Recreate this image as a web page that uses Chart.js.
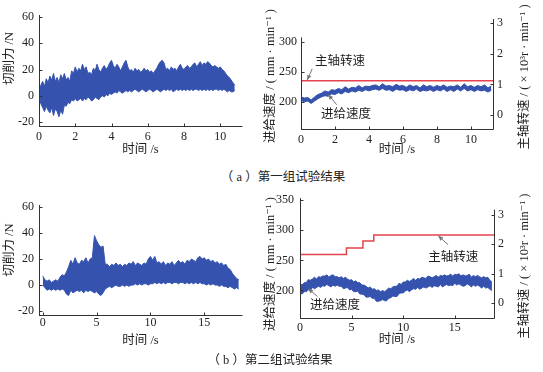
<!DOCTYPE html>
<html lang="zh">
<head>
<meta charset="UTF-8">
<title>试验结果</title>
<script src="https://cdn.jsdelivr.net/npm/chart.js"></script>
<style>
  body { margin: 0; background: #fff; width: 543px; height: 372px; position: relative; overflow: hidden;
         font-family: 'Liberation Serif', 'Times New Roman', 'DejaVu Serif', 'Noto Sans CJK SC', serif; }
  .panel { position: absolute; }
  .cap { position: absolute; font-size: 12.5px; color: #222; transform: translate(-50%, -50%); white-space: nowrap; }
</style>
</head>
<body>

<div class="panel" style="left:0;top:0;width:270px;height:165px"><canvas id="forceA"></canvas></div>
<div class="panel" style="left:262px;top:0;width:281px;height:165px"><canvas id="feedA"></canvas></div>
<div class="panel" style="left:0;top:185px;width:270px;height:165px"><canvas id="forceB"></canvas></div>
<div class="panel" style="left:262px;top:185px;width:281px;height:165px"><canvas id="feedB"></canvas></div>
<div class="cap" style="left:283px;top:175px">（ a ）第一组试验结果</div>
<div class="cap" style="left:270px;top:358px">（ b ）第二组试验结果</div>

<script>
// ---- data ----
// cutting force envelope, group 1 (N), sampled every 0.1 s from 0 s
const forceA_dt = 0.1;
const forceA_hi = [
  3, 8, 11, 7, 13, 10, 15, 12, 17, 11,
  14, 10, 16, 13, 17, 12, 14, 11, 19, 17,
  22, 18, 21, 19, 24, 20, 22, 17, 18, 16,
  21, 19, 24, 20, 18, 21, 23, 20, 22, 25,
  27, 23, 21, 24, 22, 19, 22, 25, 27, 22,
  19, 20, 18, 21, 19, 20, 18, 19, 21, 19,
  20, 18, 19, 17, 19, 21, 24, 26, 27, 25,
  20, 21, 19, 22, 20, 21, 19, 22, 24, 21,
  20, 22, 23, 21, 22, 24, 25, 22, 24, 26,
  23, 25, 24, 26, 25, 23, 22, 23, 22, 21,
  22, 20, 19, 17, 15, 14, 12, 10, 8
];
const forceA_lo = [
  -2, -6, -9, -12, -8, -11, -13, -9, -15, -10,
  -12, -16, -11, -14, -7, -8, -5, -6, -3, -4,
  -2, -4, -3, -2, -4, -2, -3, -1, -2, -4,
  -3, -1, -2, -3, -1, 0, -1, 1, 0, 2,
  1, 2, 3, 2, 4, 3, 2, 3, 4, 3,
  4, 3, 4, 5, 4, 3, 4, 5, 4, 3,
  4, 5, 4, 3, 4, 5, 4, 3, 4, 5,
  4, 5, 4, 5, 3, 4, 5, 4, 5, 4,
  5, 4, 5, 4, 5, 4, 5, 5, 4, 5,
  4, 5, 4, 5, 4, 5, 4, 5, 5, 4,
  5, 4, 5, 4, 3, 4, 3, 3, 4
];

// cutting force envelope, group 2 (N), sampled every 0.2 s
const forceB_dt = 0.2;
const forceB_hi = [
  7, 4, 3, 4, 2, 3, 4, 3, 6, 8,
  7, 10, 14, 19, 16, 21, 17, 16, 19, 18,
  21, 17, 20, 21, 38, 34, 31, 29, 30, 16,
  16, 14, 16, 15, 17, 15, 16, 14, 16, 15,
  17, 16, 18, 15, 17, 16, 15, 17, 16, 20,
  22, 19, 22, 17, 18, 16, 18, 15, 17, 16,
  18, 15, 17, 19, 17, 18, 16, 19, 18, 20,
  19, 18, 21, 22, 20, 21, 19, 20, 18, 19,
  17, 18, 16, 17, 15, 16, 13, 12, 9, 7,
  5, 4
];
const forceB_lo = [
  0, -2, -4, -3, -4, -3, -4, -3, -4, -3,
  -4, -7, -8, -4, -6, -5, -4, -5, -4, -6,
  -4, -5, -4, -5, -6, -5, -7, -8, -6, -3,
  -2, -1, -2, -1, 0, -1, -1, 0, -1, 0,
  -1, 0, 0, 1, 0, 1, 0, 1, 1, 0,
  1, 1, 2, 1, 2, 1, 2, 1, 2, 2,
  1, 2, 2, 1, 2, 2, 1, 2, 1, 2,
  1, 2, 1, 2, 1, 1, 0, 1, 0, 1,
  0, 0, -1, 0, -1, -1, -2, -1, -2, -3,
  -2, -3
];

// feed speed band (mm/min), sampled every 0.2 s
const feed_dt = 0.2;
const feedA_hi = [
  208, 206, 207, 203, 208, 212, 214, 218, 216, 220,
  219, 222, 220, 225, 221, 224, 223, 227, 223, 226,
  225, 227, 228, 225, 230, 226, 227, 225, 229, 226,
  227, 224, 228, 225, 227, 223, 228, 225, 227, 224,
  227, 225, 228, 224, 226, 225, 228, 224, 230, 225,
  227, 224, 227, 225, 228, 223, 226
];
const feedA_lo = [
  202, 200, 201, 197, 201, 205, 208, 210, 209, 213,
  212, 215, 213, 217, 215, 218, 216, 219, 217, 220,
  218, 220, 221, 219, 222, 219, 220, 217, 221, 219,
  220, 217, 220, 218, 221, 217, 219, 218, 220, 217,
  220, 218, 221, 217, 220, 217, 221, 218, 222, 218,
  220, 217, 220, 218, 219, 216, 219
];
const feedB_hi = [
  211, 209, 213, 213, 218, 217, 219, 222, 219, 223,
  222, 224, 224, 226, 222, 225, 226, 223, 223, 221,
  223, 220, 222, 219, 217, 218, 214, 216, 213, 213,
  209, 209, 207, 204, 206, 202, 203, 200, 201, 198,
  200, 198, 201, 204, 203, 206, 207, 207, 212, 210,
  214, 214, 217, 215, 217, 220, 217, 220, 219, 222,
  221, 220, 224, 223, 221, 223, 225, 222, 225, 224,
  226, 224, 225, 227, 224, 227, 226, 228, 224, 226,
  224, 225, 227, 222, 225, 223, 225, 223, 221, 223,
  221, 222, 217, 214
];
const feedB_lo = [
  196, 194, 198, 198, 201, 200, 205, 203, 205, 207,
  205, 208, 207, 210, 208, 206, 209, 207, 209, 207,
  207, 203, 204, 205, 201, 202, 198, 198, 199, 194,
  194, 193, 189, 189, 190, 187, 187, 182, 182, 183,
  185, 183, 183, 187, 188, 191, 190, 190, 195, 196,
  196, 199, 201, 198, 201, 203, 202, 205, 202, 204,
  206, 204, 206, 208, 205, 208, 207, 206, 210, 206,
  208, 210, 208, 209, 208, 212, 209, 211, 209, 207,
  208, 211, 209, 206, 209, 207, 209, 207, 204, 207,
  204, 205, 202, 200
];

// spindle speed (x10^3 r/min)
const spindleA_t = [0, 11.3];
const spindleA = [1.12, 1.12];
const spindleB_t = [0, 4.5, 6.1, 7.15, 18.8];
const spindleB = [1.65, 1.87, 2.11, 2.31, 2.31];

// tick labels
const xTicksA = [0, 2, 4, 6, 8, 10];
const xTicksB = [0, 5, 10, 15];
const forceTicks = [-20, 0, 20, 40, 60];
const feedTicksA = [200, 250, 300];
const feedTicksB = [200, 250, 300, 350];
const spinTicks = [0, 1, 2, 3];

// ---- drawing ----
const FONT = "'Liberation Serif', 'Times New Roman', 'DejaVu Serif', 'Noto Sans CJK SC', serif";
const BLUE = '#3553ae';
const RED = '#e5434d';
Chart.defaults.font.family = FONT;
Chart.defaults.font.size = 12;
Chart.defaults.color = '#222';

function sampled(vals, dt) {
  return vals.map((v, i) => ({ x: +(i * dt).toFixed(2), y: v }));
}
function paired(ts, vals) {
  return ts.map((t, i) => ({ x: t, y: vals[i] }));
}
// two datasets filled between them
function band(lo, hi, dt, axis) {
  return [
    { data: sampled(lo, dt), yAxisID: axis, borderColor: BLUE, borderWidth: 1, fill: false },
    { data: sampled(hi, dt), yAxisID: axis, borderColor: BLUE, borderWidth: 1, backgroundColor: BLUE, fill: '-1' }
  ];
}

function xScale(min, max, ticks, h, pad, titlePad) {
  return {
    type: 'linear', min, max,
    afterBuildTicks: s => { s.ticks = ticks.map(v => ({ value: v })); },
    afterFit: s => { s.height = h; },
    grid: { display: false, drawTicks: false },
    border: { display: false },
    ticks: { padding: pad, maxRotation: 0 },
    title: { display: true, text: '时间 /s', font: { size: 12.5 }, padding: { top: 0, bottom: titlePad } }
  };
}
function yScale(pos, min, max, ticks, w, pad) {
  return {
    type: 'linear', position: pos, min, max,
    afterBuildTicks: s => { s.ticks = ticks.map(v => ({ value: v })); },
    afterFit: s => { s.width = w; },
    grid: { display: false, drawTicks: false },
    border: { display: false },
    ticks: { padding: pad }
  };
}

// axis lines with inward tick marks
const axisFrame = {
  id: 'axisFrame',
  afterDatasetsDraw(chart, args, opts) {
    const ctx = chart.ctx, a = chart.chartArea;
    ctx.save();
    ctx.strokeStyle = '#333';
    ctx.lineWidth = 1;
    ctx.beginPath();
    (opts.axes || []).forEach(ax => {
      const s = chart.scales[ax.id];
      if (ax.id === 'x') {
        const y = Math.round(a.bottom) + 0.5;
        ctx.moveTo(a.left, y); ctx.lineTo(a.right + 0.5, y);
        s.ticks.forEach(t => {
          const x = Math.round(s.getPixelForValue(t.value)) + 0.5;
          ctx.moveTo(x, y); ctx.lineTo(x, y - 3);
        });
      } else {
        const right = s.position === 'right';
        const x = Math.round(right ? a.right : a.left) + 0.5;
        const top = ax.top != null ? s.getPixelForValue(ax.top) : a.top;
        ctx.moveTo(x, a.bottom + 0.5); ctx.lineTo(x, top);
        s.ticks.forEach(t => {
          const y = Math.round(s.getPixelForValue(t.value)) + 0.5;
          ctx.moveTo(x, y); ctx.lineTo(x + (right ? -3 : 3), y);
        });
      }
    });
    ctx.stroke();
    ctx.restore();
  }
};

// vertical axis titles (read bottom to top)
const sideTitles = {
  id: 'sideTitles',
  afterDraw(chart, args, opts) {
    const ctx = chart.ctx, a = chart.chartArea;
    (opts.items || []).forEach(it => {
      ctx.save();
      ctx.translate(it.x, (a.top + a.bottom) / 2 + (it.dy || 0));
      ctx.rotate(-Math.PI / 2);
      ctx.font = '12.5px ' + FONT;
      ctx.fillStyle = '#222';
      ctx.textAlign = 'center';
      ctx.textBaseline = 'middle';
      ctx.fillText(it.text, 0, 0);
      ctx.restore();
    });
  }
};

// in-plot labels with small arrows, placed in data units
const callouts = {
  id: 'callouts',
  afterDraw(chart, args, opts) {
    const ctx = chart.ctx, sx = chart.scales.x, sy = chart.scales.y;
    (opts.items || []).forEach(it => {
      ctx.save();
      ctx.font = '12.5px ' + FONT;
      ctx.fillStyle = '#222';
      ctx.textAlign = 'left';
      ctx.textBaseline = 'middle';
      ctx.fillText(it.text, sx.getPixelForValue(it.at[0]), sy.getPixelForValue(it.at[1]));
      const x0 = sx.getPixelForValue(it.from[0]), y0 = sy.getPixelForValue(it.from[1]);
      const x1 = sx.getPixelForValue(it.to[0]), y1 = sy.getPixelForValue(it.to[1]);
      const ang = Math.atan2(y1 - y0, x1 - x0);
      ctx.strokeStyle = '#777';
      ctx.fillStyle = '#777';
      ctx.lineWidth = 1;
      ctx.beginPath(); ctx.moveTo(x0, y0); ctx.lineTo(x1, y1); ctx.stroke();
      ctx.beginPath();
      ctx.moveTo(x1, y1);
      ctx.lineTo(x1 - 5 * Math.cos(ang) + 2.2 * Math.sin(ang), y1 - 5 * Math.sin(ang) - 2.2 * Math.cos(ang));
      ctx.lineTo(x1 - 5 * Math.cos(ang) - 2.2 * Math.sin(ang), y1 - 5 * Math.sin(ang) + 2.2 * Math.cos(ang));
      ctx.closePath(); ctx.fill();
      ctx.restore();
    });
  }
};

function baseOptions(padTop) {
  return {
    responsive: true,
    maintainAspectRatio: false,
    animation: false,
    events: [],
    layout: { padding: { top: padTop, left: 0, right: 0, bottom: 0 } },
    elements: { point: { radius: 0 }, line: { tension: 0 } }
  };
}

function forceChart(id, lo, hi, dt, xmin, xmax, xticks, padTop, padRight, xh, tickPad, titlePad, dy) {
  const opts = baseOptions(padTop);
  opts.layout.padding.right = padRight;
  opts.scales = {
    x: xScale(xmin, xmax, xticks, xh, tickPad, titlePad),
    y: yScale('left', -23, 61.5, forceTicks, 39, 5)
  };
  opts.plugins = {
    legend: { display: false }, tooltip: { enabled: false },
    axisFrame: { axes: [{ id: 'x' }, { id: 'y' }] },
    sideTitles: { items: [{ text: '切削力 /N', x: 10, dy: dy }] }
  };
  return new Chart(document.getElementById(id), {
    type: 'line',
    data: { datasets: band(lo, hi, dt, 'y') },
    options: opts,
    plugins: [axisFrame, sideTitles]
  });
}

forceChart('forceA', forceA_lo, forceA_hi, forceA_dt, 0, 11.2, xTicksA, 15, 28, 39, 4, 7.5, -12);
forceChart('forceB', forceB_lo, forceB_hi, forceB_dt, -0.35, 18.5, xTicksB, 20, 28, 35, 1, 1.5, -10);

// feed / spindle, group 1
(function () {
  const opts = baseOptions(19);
  opts.scales = {
    x: xScale(0, 11.3, xTicksA, 36, 4, 7.5),
    y: yScale('left', 154.5, 337.8, feedTicksA, 39, 4),
    y1: yScale('right', -0.46, 3.14, spinTicks, 50, 4)
  };
  opts.plugins = {
    legend: { display: false }, tooltip: { enabled: false },
    axisFrame: { axes: [{ id: 'x' }, { id: 'y', top: 307 }, { id: 'y1' }] },
    sideTitles: { items: [
      { text: '进给速度 / ( mm · min⁻¹ )', x: 9, dy: 2 },
      { text: '主轴转速 / ( × 10³r · min⁻¹ )', x: 263, dy: 3 }
    ] },
    callouts: { items: [
      { text: '主轴转速', at: [0.82, 266], from: [0.66, 255], to: [0.37, 236] },
      { text: '进给速度', at: [1.18, 178], from: [2.1, 195], to: [1.6, 212] }
    ] }
  };
  new Chart(document.getElementById('feedA'), {
    type: 'line',
    data: {
      datasets: band(feedA_lo, feedA_hi, feed_dt, 'y').concat([
        { label: '主轴转速', data: paired(spindleA_t, spindleA), yAxisID: 'y1', borderColor: RED, borderWidth: 1.5 }
      ])
    },
    options: opts,
    plugins: [axisFrame, sideTitles, callouts]
  });
})();

// feed / spindle, group 2
(function () {
  const opts = baseOptions(11);
  opts.scales = {
    x: xScale(0, 18.8, xTicksB, 32, 3, 2.5),
    y: yScale('left', 154.3, 353.3, feedTicksB, 38, 6),
    y1: yScale('right', -0.51, 3.56, spinTicks, 49, 4)
  };
  opts.plugins = {
    legend: { display: false }, tooltip: { enabled: false },
    axisFrame: { axes: [{ id: 'x' }, { id: 'y' }, { id: 'y1', top: 3.17 }] },
    sideTitles: { items: [
      { text: '进给速度 / ( mm · min⁻¹ )', x: 9, dy: 6 },
      { text: '主轴转速 / ( × 10³r · min⁻¹ )', x: 263, dy: 8 }
    ] },
    callouts: { items: [
      { text: '主轴转速', at: [12.42, 254], from: [14.36, 276], to: [13.39, 291] },
      { text: '进给速度', at: [0.97, 175.5], from: [1.7, 190], to: [0.8, 203] }
    ] }
  };
  new Chart(document.getElementById('feedB'), {
    type: 'line',
    data: {
      datasets: band(feedB_lo, feedB_hi, feed_dt, 'y').concat([
        { label: '主轴转速', data: paired(spindleB_t, spindleB), yAxisID: 'y1', borderColor: RED, borderWidth: 1.5, stepped: 'before' }
      ])
    },
    options: opts,
    plugins: [axisFrame, sideTitles, callouts]
  });
})();
</script>
</body>
</html>
